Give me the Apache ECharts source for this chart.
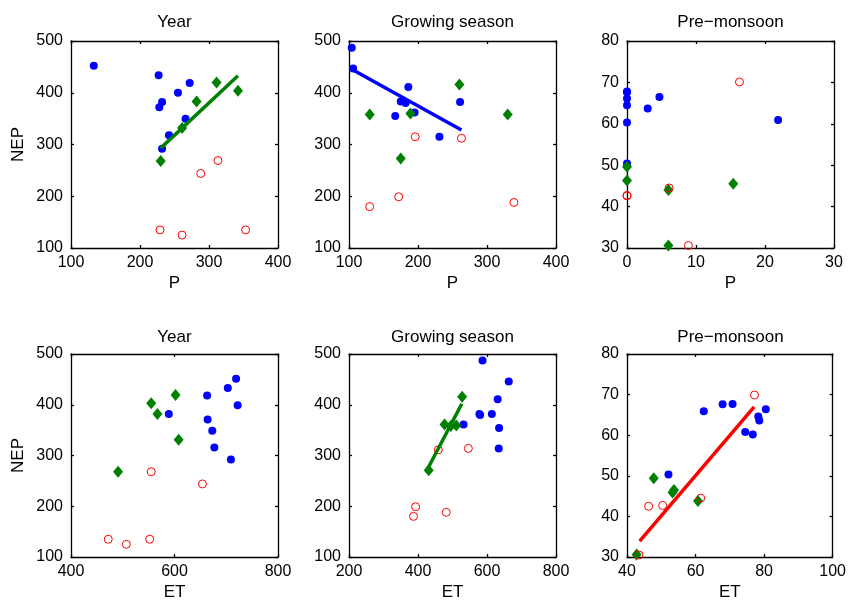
<!DOCTYPE html>
<html>
<head>
<meta charset="utf-8">
<script src="https://cdn.jsdelivr.net/npm/echarts@6/dist/echarts.min.js"></script>
<style>
html,body{margin:0;padding:0;background:#fff;}
#chart{width:849px;height:602px;}
</style>
</head>
<body>
<div id="chart"></div>
<script>
// ---------- Data ----------
const panelTitles = ['Year', 'Growing season', 'Pre\u2212monsoon', 'Year', 'Growing season', 'Pre\u2212monsoon'];
const xNames = ['P', 'P', 'P', 'ET', 'ET', 'ET'];
const yName = 'NEP';

// Panel 1: Year, NEP vs P
const yearP_blue  = [[133,452],[227,434],[272,419],[255,400],[232,382],[228,372],[266,350],[242,318],[232,292]];
const yearP_green = [[311,420],[342,404],[282,383],[261,332],[230,268]];
const yearP_red   = [[313,269],[288,244],[229,135],[261,125],[353,135]];
const yearP_fit   = [[230,293],[342,433]];

// Panel 2: Growing season, NEP vs P
const growP_blue  = [[104,487],[106,447],[186,411],[175,383],[182,380],[195,362],[167,355],[261,382],[231,315]];
const growP_green = [[130,358],[260,416],[330,358],[189,360],[175,273]];
const growP_red   = [[130,180],[172,199],[196,315],[263,312],[339,188]];
const growP_fit   = [[102,447],[263,328]];

// Panel 3: Pre-monsoon, NEP vs P
const preP_blue  = [[0,67.8],[0,67.6],[0,66.1],[0,64.5],[0,60.3],[0,50.4],[3,63.7],[4.7,66.5],[21.9,60.9]];
const preP_green = [[0,49.6],[0,46.3],[6,44],[6,30.6],[15.4,45.5]];
const preP_red   = [[0,42.6],[0,42.7],[6.1,44.5],[8.9,30.6],[16.3,70.1]];

// Panel 4: Year, NEP vs ET
const yearET_blue  = [[719,451],[703,433],[663,418],[722,399],[589,382],[664,371],[673,349],[677,316],[709,292]];
const yearET_green = [[555,403],[602,419],[567,382],[608,331],[491,268]];
const yearET_red   = [[555,268],[654,244],[472,135],[507,125],[552,135]];

// Panel 5: Growing season, NEP vs ET
const growET_blue  = [[587,487],[663,446],[631,411],[578,382],[580,380],[614,382],[532,361],[635,354],[634,314]];
const growET_green = [[528,416],[477,361],[495,358],[511,359],[431,271]];
const growET_red   = [[459,311],[546,314],[393,199],[387,180],[482,188]];
const growET_fit   = [[428,274],[527,402]];

// Panel 6: Pre-monsoon, NEP vs ET
const preET_blue  = [[62.4,65.9],[67.9,67.6],[70.8,67.7],[74.5,60.8],[76.7,60.2],[78.3,64.6],[78.6,63.6],[80.5,66.4],[52.1,50.3]];
const preET_green = [[47.8,49.4],[53.3,45.9],[53.7,46.5],[60.7,43.8],[42.8,30.6]];
const preET_red   = [[46.3,42.5],[50.4,42.7],[61.5,44.5],[43.5,30.5],[77.2,69.9]];
const preET_fit   = [[43.7,33.9],[77.1,67.0]];

// Axis ranges: [min, max, interval]
const xRanges = [[100,400,100],[100,400,100],[0,30,10],[400,800,200],[200,800,200],[40,100,20]];
const yRanges = [[100,500,100],[100,500,100],[30,80,10],[100,500,100],[100,500,100],[30,80,10]];

const panels = [
  {blue: yearP_blue,  green: yearP_green,  red: yearP_red,  fit: yearP_fit,  fitColor: '#008000'},
  {blue: growP_blue,  green: growP_green,  red: growP_red,  fit: growP_fit,  fitColor: '#0000ff'},
  {blue: preP_blue,   green: preP_green,   red: preP_red,   fit: null},
  {blue: yearET_blue, green: yearET_green, red: yearET_red, fit: null},
  {blue: growET_blue, green: growET_green, red: growET_red, fit: growET_fit, fitColor: '#008000'},
  {blue: preET_blue,  green: preET_green,  red: preET_red,  fit: preET_fit,  fitColor: '#ff0000'}
];

// ---------- Layout ----------
const FONT = 'Liberation Sans, Arial, Helvetica, sans-serif';
const TICK_FS = 16, NAME_FS = 17;
const colLefts = [71, 349, 627];
const rowTops = [41, 354];
const titleCenters = [22, 337];
const GW = 207, GH = 207;

const grids = [], xAxes = [], yAxes = [], series = [], titles = [];

panels.forEach((p, i) => {
  const col = i % 3, row = Math.floor(i / 3);
  grids.push({left: colLefts[col], top: rowTops[row], width: GW, height: GH, containLabel: false});
  titles.push({
    text: panelTitles[i],
    left: colLefts[col] + GW / 2,
    top: titleCenters[row] - NAME_FS / 2,
    padding: 0,
    textAlign: 'center',
    textStyle: {fontFamily: FONT, fontSize: NAME_FS, fontWeight: 'normal', color: '#000', lineHeight: NAME_FS}
  });
  const xr = xRanges[i], yr = yRanges[i];
  const lineStyle = {color: '#000', width: 1.3};
  // bottom x axis
  xAxes.push({
    type: 'value', gridIndex: i, position: 'bottom', min: xr[0], max: xr[1], interval: xr[2],
    name: xNames[i], nameLocation: 'middle', nameGap: 27,
    nameTextStyle: {fontFamily: FONT, fontSize: NAME_FS, color: '#000'},
    axisLine: {show: true, onZero: false, lineStyle},
    axisTick: {show: true, inside: true, length: 3, lineStyle},
    axisLabel: {fontFamily: FONT, fontSize: TICK_FS, color: '#000', margin: 7},
    splitLine: {show: false}
  });
  // top x axis (ticks only)
  xAxes.push({
    type: 'value', gridIndex: i, position: 'top', min: xr[0], max: xr[1], interval: xr[2],
    axisLine: {show: true, onZero: false, lineStyle},
    axisTick: {show: true, inside: true, length: 3, lineStyle},
    axisLabel: {show: false}, splitLine: {show: false}
  });
  // left y axis
  yAxes.push({
    type: 'value', gridIndex: i, position: 'left', min: yr[0], max: yr[1], interval: yr[2],
    name: col === 0 ? yName : '', nameLocation: 'middle', nameGap: 44, nameRotate: 90,
    nameTextStyle: {fontFamily: FONT, fontSize: NAME_FS, color: '#000'},
    axisLine: {show: true, onZero: false, lineStyle},
    axisTick: {show: true, inside: true, length: 3, lineStyle},
    axisLabel: {fontFamily: FONT, fontSize: TICK_FS, color: '#000', margin: 8},
    splitLine: {show: false}
  });
  // right y axis (ticks only)
  yAxes.push({
    type: 'value', gridIndex: i, position: 'right', min: yr[0], max: yr[1], interval: yr[2],
    axisLine: {show: true, onZero: false, lineStyle},
    axisTick: {show: true, inside: true, length: 3, lineStyle},
    axisLabel: {show: false}, splitLine: {show: false}
  });
  const xi = 2 * i, yi = 2 * i;
  series.push({
    type: 'scatter', xAxisIndex: xi, yAxisIndex: yi, data: p.blue,
    symbol: 'circle', symbolSize: 8, itemStyle: {color: '#0000ff', opacity: 1}, z: 2
  });
  series.push({
    type: 'scatter', xAxisIndex: xi, yAxisIndex: yi, data: p.green,
    symbol: 'diamond', symbolSize: [10, 12], itemStyle: {color: '#008000', opacity: 1}, z: 3
  });
  series.push({
    type: 'scatter', xAxisIndex: xi, yAxisIndex: yi, data: p.red,
    symbol: 'circle', symbolSize: 8,
    itemStyle: {color: 'rgba(255,255,255,0)', borderColor: '#ff0000', borderWidth: 1, opacity: 1}, z: 4
  });
  if (p.fit) {
    series.push({
      type: 'line', xAxisIndex: xi, yAxisIndex: yi, data: p.fit,
      showSymbol: false, symbol: 'none', silent: true,
      lineStyle: {color: p.fitColor, width: 3.5}, z: 5
    });
  }
});

const chart = echarts.init(document.getElementById('chart'), null, {renderer: 'canvas'});
chart.setOption({
  animation: false,
  backgroundColor: '#fff',
  title: titles,
  grid: grids,
  xAxis: xAxes,
  yAxis: yAxes,
  series: series
});
</script>
</body>
</html>
